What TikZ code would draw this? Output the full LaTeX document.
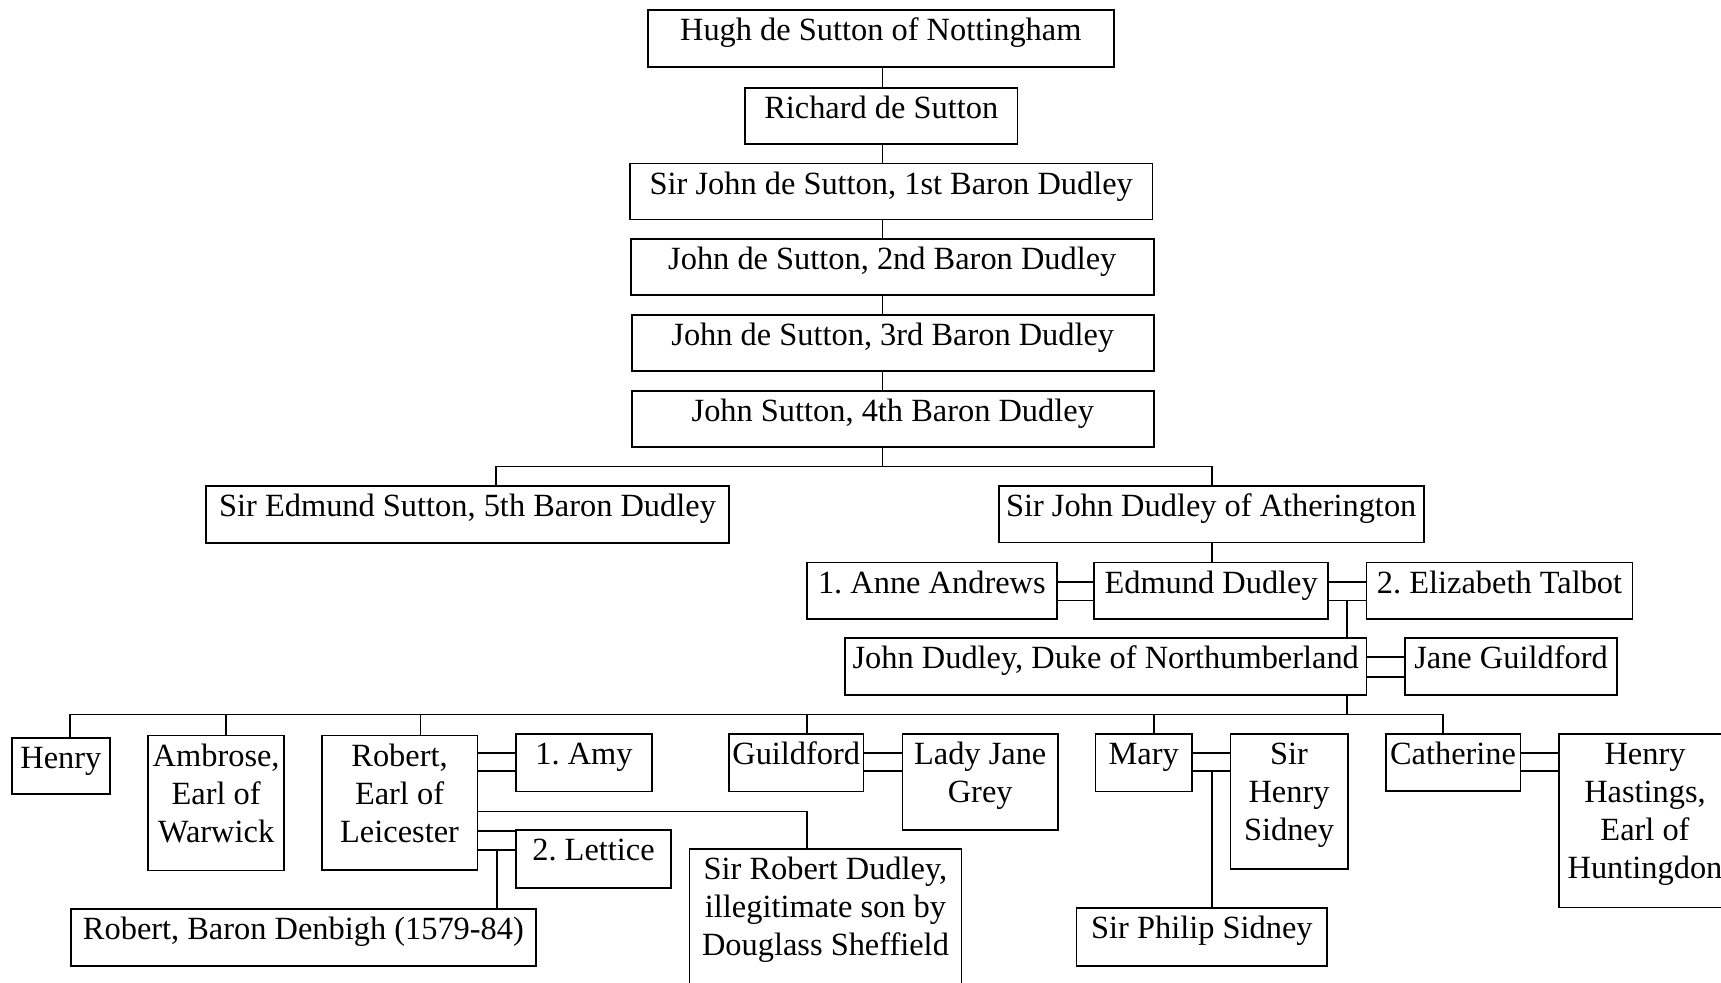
\documentclass[tikz,border=0pt]{standalone}
\usepackage{fontspec}
\setmainfont{Liberation Serif}
\frenchspacing
\usetikzlibrary{fit}
\tikzset{
  famb/.style={draw, line width=0.9pt, inner sep=0pt, rectangle},
  famt/.style={anchor=base, inner sep=0pt, font=\fontsize{16.2}{19}\selectfont\frenchspacing},
  link/.style={line width=0.85pt},
}
\newcommand\fbx[6]{%
  \node[famb, fit={(#2,#3) (#4,#5)}] (#1) {};
  \node[famt] (#1-t) at ([yshift=-15.75pt]#1.north) {\begin{tabular}[t]{@{}c@{}}#6\end{tabular}};}
\begin{document}
\begin{tikzpicture}[x=0.5pt,y=-0.5pt]
\useasboundingbox (0,0) rectangle (1721,982);
\fill[white] (0,0) rectangle (1721,982);
\clip (0,0) rectangle (1721,982);
% boxes
\fbx{hugh}{647.6}{9.9}{1114}{67}{Hugh de Sutton of Nottingham}
\fbx{rich}{745}{87.8}{1017.5}{143.8}{Richard de Sutton}
\fbx{jA}{630}{163.5}{1152.5}{219.5}{Sir John de Sutton, 1st Baron Dudley}
\fbx{jB}{631}{239.3}{1153.6}{295.3}{John de Sutton, 2nd Baron Dudley}
\fbx{jC}{632}{315}{1153.6}{371}{John de Sutton, 3rd Baron Dudley}
\fbx{jD}{632}{390.7}{1153.6}{446.7}{John Sutton, 4th Baron Dudley}
\fbx{eds}{206.3}{486.2}{728.8}{543}{Sir Edmund Sutton, 5th Baron Dudley}
\fbx{ath}{998.8}{486.2}{1423.6}{542.5}{Sir John Dudley of Atherington}
\fbx{anne}{806.7}{562.5}{1057}{619}{1. Anne Andrews}
\fbx{edd}{1094.3}{562.5}{1328}{619}{Edmund Dudley}
\fbx{eliz}{1366.5}{562.5}{1632.5}{619}{2. Elizabeth Talbot}
\fbx{duke}{845}{637.7}{1366.5}{695}{John Dudley, Duke of Northumberland}
\fbx{jane}{1405}{637.7}{1617}{695}{Jane Guildford}
\fbx{henry}{12}{737.6}{109.8}{793.6}{Henry}
\fbx{ambr}{148}{735.4}{284.3}{870.4}{Ambrose,\\Earl of\\Warwick}
\fbx{rob}{321.6}{735.4}{477.5}{870}{Robert,\\Earl of\\Leicester}
\fbx{amy}{516}{734.3}{652}{791.4}{1. Amy}
\fbx{lett}{516}{830}{671}{888}{2. Lettice}
\fbx{denb}{71.3}{908.8}{535.6}{966}{Robert, Baron Denbigh (1579-84)}
\fbx{srd}{689.5}{848.6}{961.5}{1010}{Sir Robert Dudley,\\illegitimate son by\\Douglass Sheffield}
\fbx{guil}{729}{734.3}{863.5}{791.4}{Guildford}
\fbx{ljg}{902.4}{734.3}{1058}{829.8}{Lady Jane\\Grey}
\fbx{mary}{1095.5}{734.3}{1192}{791.4}{Mary}
\fbx{hsid}{1230.5}{734.3}{1347.6}{869.2}{Sir\\Henry\\Sidney}
\fbx{phil}{1076.5}{908.2}{1327.3}{965.8}{Sir Philip Sidney}
\fbx{cath}{1385.6}{734.3}{1520.5}{791}{Catherine}
\fbx{hast}{1559}{734.3}{1731}{907.5}{Henry\\Hastings,\\Earl of\\Huntingdon}
% descent spine
\coordinate (sp) at (882.5,0);
\draw[link] (hugh.south -| sp) -- (rich.north -| sp);
\draw[link] (rich.south -| sp) -- (jA.north -| sp);
\draw[link] (jA.south -| sp) -- (jB.north -| sp);
\draw[link] (jB.south -| sp) -- (jC.north -| sp);
\draw[link] (jC.south -| sp) -- (jD.north -| sp);
\coordinate (k1) at (496,466.5);
\coordinate (k2) at (1211.7,466.5);
\draw[link] (jD.south -| sp) -- (sp |- k1);
\draw[link] (eds.north -| k1) -- (k1) -- (k2) -- (ath.north -| k2);
\draw[link] (ath.south -| k2) -- (edd.north -| k2);
% Edmund Dudley marriages
\coordinate (mA) at (0,581.7);
\coordinate (mB) at (0,600.4);
\draw[link] (anne.east |- mA) -- (edd.west |- mA);
\draw[link] (anne.east |- mB) -- (edd.west |- mB);
\draw[link] (edd.east |- mA) -- (eliz.west |- mA);
\draw[link] (edd.east |- mB) -- (eliz.west |- mB);
\coordinate (dk) at (1347,0);
\draw[link] (dk |- mB) -- (duke.north -| dk);
% Duke marriage
\coordinate (mC) at (0,657.3);
\coordinate (mD) at (0,676.7);
\draw[link] (duke.east |- mC) -- (jane.west |- mC);
\draw[link] (duke.east |- mD) -- (jane.west |- mD);
% Duke children
\coordinate (kb) at (0,714.5);
\draw[link] (duke.south -| dk) -- (dk |- kb);
\coordinate (c1) at (70.2,714.5);
\coordinate (c2) at (226,714.5);
\coordinate (c3) at (420.4,714.5);
\coordinate (c4) at (806.7,714.5);
\coordinate (c5) at (1154,714.5);
\coordinate (c6) at (1443.3,714.5);
\draw[link] (henry.north -| c1) -- (c1) -- (c6) -- (cath.north -| c6);
\draw[link] (c2) -- (ambr.north -| c2);
\draw[link] (c3) -- (rob.north -| c3);
\draw[link] (c4) -- (guil.north -| c4);
\draw[link] (c5) -- (mary.north -| c5);
% third-row marriages
\coordinate (mE) at (0,752.7);
\coordinate (mF) at (0,771.3);
\draw[link] (rob.east |- mE) -- (amy.west |- mE);
\draw[link] (rob.east |- mF) -- (amy.west |- mF);
\draw[link] (guil.east |- mE) -- (ljg.west |- mE);
\draw[link] (guil.east |- mF) -- (ljg.west |- mF);
\draw[link] (mary.east |- mE) -- (hsid.west |- mE);
\draw[link] (mary.east |- mF) -- (hsid.west |- mF);
\draw[link] (cath.east |- mE) -- (hast.west |- mE);
\draw[link] (cath.east |- mF) -- (hast.west |- mF);
% Robert's other links
\coordinate (sr) at (806.7,811.5);
\draw[link] (rob.east |- sr) -- (sr) -- (srd.north -| sr);
\coordinate (mG) at (0,831.3);
\coordinate (mH) at (0,849.8);
\draw[link] (rob.east |- mG) -- (lett.west |- mG);
\draw[link] (rob.east |- mH) -- (lett.west |- mH);
\coordinate (dn) at (496.7,849.8);
\draw[link] (dn) -- (denb.north -| dn);
\coordinate (ph) at (1211.7,771.3);
\draw[link] (ph) -- (phil.north -| ph);
\end{tikzpicture}
\end{document}
